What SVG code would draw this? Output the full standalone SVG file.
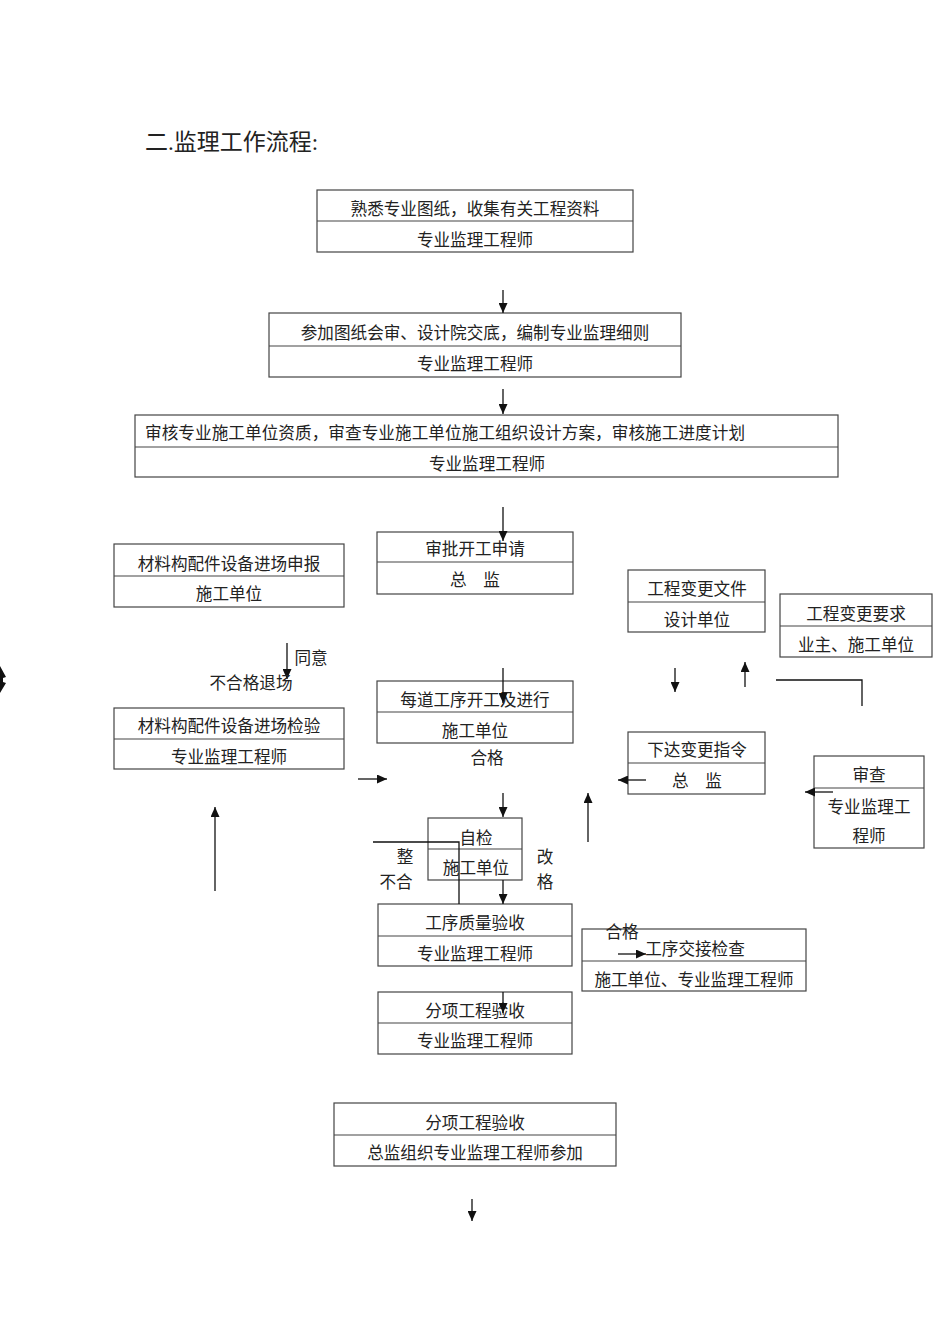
<svg xmlns="http://www.w3.org/2000/svg" width="950" height="1344" viewBox="0 0 950 1344">
<defs>
<style>
.bx{fill:none;stroke:#444;stroke-width:1.2}
.dv{stroke:#444;stroke-width:1.2}
.t{font-family:"Liberation Serif","Noto Sans CJK SC",serif;font-size:16.6px;fill:#222;text-anchor:middle;dominant-baseline:central}
.ts{text-anchor:start}
.c{fill:none;stroke:#111;stroke-width:1.3}
.ar{marker-end:url(#ah)}
</style>
<marker id="ah" markerUnits="userSpaceOnUse" markerWidth="10" markerHeight="9" refX="10" refY="4.5" orient="auto">
<path d="M0,0 L10,4.5 L0,9 z" fill="#111"/>
</marker>
</defs>
<rect width="950" height="1344" fill="#fff"/>
<text class="t ts" x="145" y="142" style="font-size:23px">二.监理工作流程:</text>
<path d="M0,666 L6,677 L3,678 L3,682 L6,683 L0,693 z" fill="#111"/>

<g id="n1"><rect class="bx" x="317" y="190" width="316" height="62"/><line class="dv" x1="317" y1="221" x2="633" y2="221"/>
<text class="t" x="475" y="209">熟悉专业图纸，收集有关工程资料</text><text class="t" x="475" y="240">专业监理工程师</text></g>
<g id="n2"><rect class="bx" x="269" y="313" width="412" height="64"/><line class="dv" x1="269" y1="346" x2="681" y2="346"/>
<text class="t" x="475" y="333">参加图纸会审、设计院交底，编制专业监理细则</text><text class="t" x="475" y="364">专业监理工程师</text></g>
<g id="n3"><rect class="bx" x="135" y="415" width="703" height="62"/><line class="dv" x1="135" y1="447" x2="838" y2="447"/>
<text class="t ts" x="145" y="433" textLength="600">审核专业施工单位资质，审查专业施工单位施工组织设计方案，审核施工进度计划</text><text class="t" x="487" y="464">专业监理工程师</text></g>
<g id="n4"><rect class="bx" x="377" y="532" width="196" height="62"/><line class="dv" x1="377" y1="562" x2="573" y2="562"/>
<text class="t" x="475" y="549">审批开工申请</text><text class="t" x="475" y="580" xml:space="preserve">总    监</text></g>
<g id="n5"><rect class="bx" x="114" y="544" width="230" height="63"/><line class="dv" x1="114" y1="576" x2="344" y2="576"/>
<text class="t" x="229" y="564">材料构配件设备进场申报</text><text class="t" x="229" y="594">施工单位</text></g>
<g id="n6"><rect class="bx" x="114" y="708" width="230" height="61"/><line class="dv" x1="114" y1="739" x2="344" y2="739"/>
<text class="t" x="229" y="726">材料构配件设备进场检验</text><text class="t" x="229" y="757">专业监理工程师</text></g>
<g id="n7"><rect class="bx" x="377" y="681" width="196" height="62"/><line class="dv" x1="377" y1="712" x2="573" y2="712"/>
<text class="t" x="475" y="700">每道工序开工及进行</text><text class="t" x="475" y="731">施工单位</text></g>
<g id="n8"><rect class="bx" x="428" y="818" width="94" height="62"/><line class="dv" x1="428" y1="849" x2="522" y2="849"/>
<text class="t" x="476" y="838">自检</text><text class="t" x="476" y="868">施工单位</text></g>
<g id="n9"><rect class="bx" x="378" y="904" width="194" height="62"/><line class="dv" x1="378" y1="936" x2="572" y2="936"/>
<text class="t" x="475" y="923">工序质量验收</text><text class="t" x="475" y="954">专业监理工程师</text></g>
<g id="n10"><rect class="bx" x="582" y="929" width="224" height="62"/><line class="dv" x1="582" y1="961" x2="806" y2="961"/>
<text class="t" x="695" y="949">工序交接检查</text><text class="t" x="694" y="980">施工单位、专业监理工程师</text></g>
<g id="n11"><rect class="bx" x="378" y="992" width="194" height="62"/><line class="dv" x1="378" y1="1023" x2="572" y2="1023"/>
<text class="t" x="475" y="1011">分项工程验收</text><text class="t" x="475" y="1041">专业监理工程师</text></g>
<g id="n12"><rect class="bx" x="334" y="1103" width="282" height="63"/><line class="dv" x1="334" y1="1135" x2="616" y2="1135"/>
<text class="t" x="475" y="1123">分项工程验收</text><text class="t" x="475" y="1153">总监组织专业监理工程师参加</text></g>
<g id="n13"><rect class="bx" x="628" y="570" width="137" height="62"/><line class="dv" x1="628" y1="602" x2="765" y2="602"/>
<text class="t" x="697" y="589">工程变更文件</text><text class="t" x="697" y="620">设计单位</text></g>
<g id="n14"><rect class="bx" x="780" y="594" width="152" height="63"/><line class="dv" x1="780" y1="626" x2="932" y2="626"/>
<text class="t" x="856" y="614">工程变更要求</text><text class="t" x="856" y="645">业主、施工单位</text></g>
<g id="n15"><rect class="bx" x="628" y="732" width="137" height="62"/><line class="dv" x1="628" y1="763" x2="765" y2="763"/>
<text class="t" x="697" y="750">下达变更指令</text><text class="t" x="697" y="781" xml:space="preserve">总    监</text></g>
<g id="n16"><rect class="bx" x="814" y="756" width="110" height="92"/><line class="dv" x1="814" y1="788" x2="924" y2="788"/>
<text class="t" x="869" y="775">审查</text><text class="t" x="869" y="807">专业监理工</text><text class="t" x="869" y="836">程师</text></g>

<g id="connectors">
<path class="c ar" d="M503,290 L503,313"/>
<path class="c ar" d="M503,389 L503,414"/>
<path class="c ar" d="M503,507 L503,541"/>
<path class="c ar" d="M287,643 L287,679"/>
<path class="c ar" d="M215,891 L215,807"/>
<path class="c ar" d="M358,779 L387,779"/>
<path class="c ar" d="M503,668 L503,703"/>
<path class="c ar" d="M503,793 L503,817"/>
<path class="c ar" d="M588,842 L588,793"/>
<path class="c ar" d="M503,880 L503,904"/>
<path class="c" d="M373,842 L459,842 L459,904"/>
<path class="c ar" d="M618,954 L646,954"/>
<path class="c ar" d="M503,992 L503,1013"/>
<path class="c ar" d="M472,1199 L472,1221"/>
<path class="c ar" d="M675,668 L675,692"/>
<path class="c ar" d="M745,687 L745,662"/>
<path class="c" d="M776,680 L862,680 L862,706"/>
<path class="c ar" d="M646,780 L618,780"/>
<path class="c ar" d="M833,792 L805,792"/>
<text class="t" x="311" y="658">同意</text>
<text class="t" x="251" y="683">不合格退场</text>
<text class="t" x="487" y="758">合格</text>
<text class="t" x="405" y="857">整</text>
<text class="t" x="396" y="882">不合</text>
<text class="t" x="545" y="857">改</text>
<text class="t" x="545" y="882">格</text>
<text class="t" x="622" y="932">合格</text>
</g>
</svg>
